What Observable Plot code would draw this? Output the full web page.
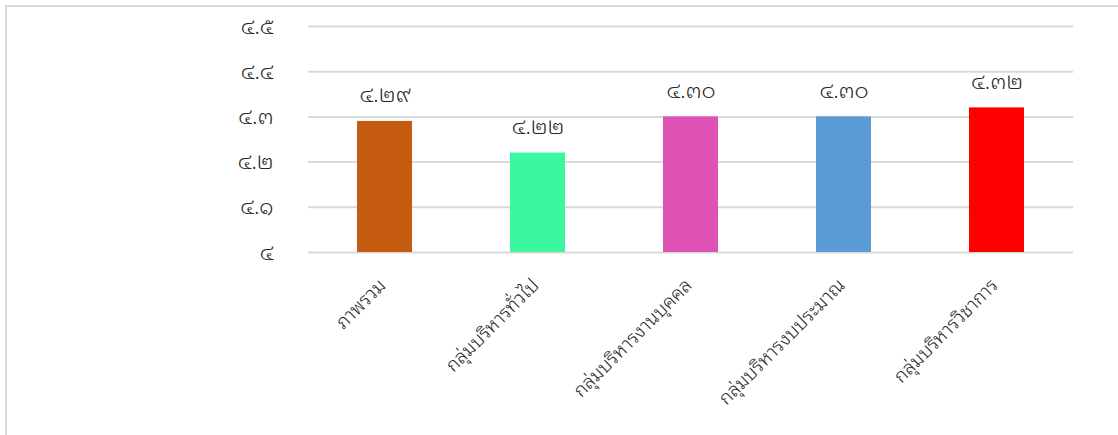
<!DOCTYPE html>
<html>
<head>
<meta charset="utf-8">
<script src="https://cdn.jsdelivr.net/npm/d3@7"></script>
<script src="https://cdn.jsdelivr.net/npm/@observablehq/plot@0.6"></script>
<style>
  html, body { margin: 0; padding: 0; background: #fff; }
  #wrap { position: relative; width: 1118px; height: 435px; overflow: hidden; }
  #frame { position: absolute; left: 5px; top: 5px; width: 1200px; height: 500px; border: 2px solid #d9d9d9; box-sizing: border-box; }
  #chart { position: absolute; left: 0; top: 0; }
</style>
</head>
<body>
<div id="wrap"><div id="frame"></div><div id="chart"></div></div>
<script>
const categories = ["ภาพรวม", "กลุ่มบริหารทั่วไป", "กลุ่มบริหารงานบุคคล", "กลุ่มบริหารงบประมาณ", "กลุ่มบริหารวิชาการ"];
const values = [4.29, 4.22, 4.30, 4.30, 4.32];
const colors = ["#C55A11", "#3BF79F", "#DD52B4", "#5B9BD5", "#FF0000"];
const yTicks = [4, 4.1, 4.2, 4.3, 4.4, 4.5];
const yBase = 4;

const thaiDigits = "๐๑๒๓๔๕๖๗๘๙";
const toThai = s => String(s).replace(/[0-9]/g, d => thaiDigits[+d]);

const data = categories.map((c, i) => ({cat: c, value: values[i], color: colors[i], base: yBase}));
const font = "'Noto Sans Thai Looped', 'Noto Sans', sans-serif";
const ink = "#262626";

const chart = Plot.plot({
  width: 1118,
  height: 435,
  marginLeft: 308,
  marginRight: 45,
  marginTop: 26,
  marginBottom: 183,
  style: {fontFamily: font, background: "transparent", color: ink},
  x: {domain: categories, paddingInner: 0.64, paddingOuter: 0.32, axis: null},
  y: {domain: [4, 4.5], axis: null},
  marks: [
    Plot.gridY(yTicks, {stroke: "#d9d9d9", strokeOpacity: 1, strokeWidth: 2}),
    Plot.axisY(yTicks, {tickSize: 0, tickPadding: 35, fontSize: 22, fontWeight: 300, tickFormat: d => toThai(d), fill: ink}),
    Plot.barY(data, {x: "cat", y1: "base", y2: "value", fill: "color"}),
    Plot.text(data, {x: "cat", y: "value", text: d => toThai(d.value.toFixed(2)), dy: -26, fontSize: 22, fontWeight: 300, fill: ink}),
    Plot.text(data, {x: "cat", text: "cat", frameAnchor: "bottom", rotate: -45, textAnchor: "end", dx: 2, dy: 34, fontSize: 19, fontWeight: 300, fill: ink})
  ]
});
document.getElementById("chart").appendChild(chart);
</script>
</body>
</html>
